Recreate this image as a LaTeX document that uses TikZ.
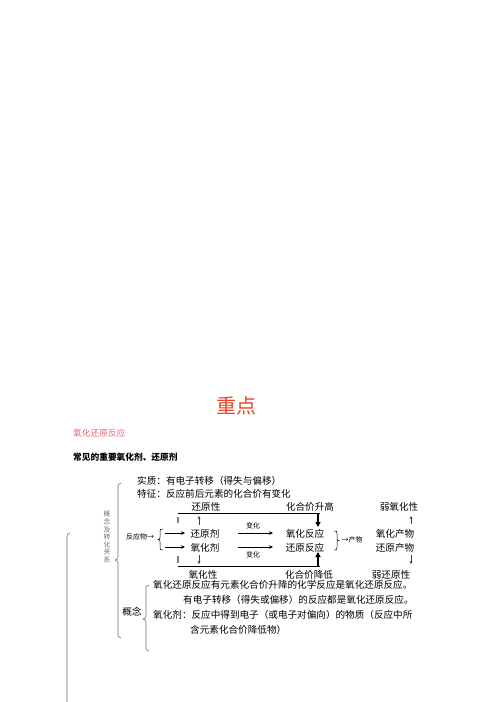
\documentclass[tikz,border=0pt]{standalone}
\usepackage{fontspec}
\setmainfont{Liberation Serif}
\newfontfamily\cjk{Noto Sans CJK SC}
\usetikzlibrary{arrows.meta}
\definecolor{titlered}{RGB}{226,70,35}
\definecolor{subpink}{RGB}{240,95,110}
\definecolor{bracegray}{RGB}{110,110,110}
\tikzset{
  txt/.style={inner sep=0pt, anchor=base, font=\cjk\fontsize{9.6}{12}\selectfont},
  ltxt/.style={txt, anchor=base west},
  small/.style={inner sep=0pt, anchor=base, font=\cjk\fontsize{7}{8}\selectfont},
  bline/.style={draw=black, line width=0.8pt},
  thickarr/.style={line width=1.3pt, -{Triangle[length=5pt,width=5pt]}},
  thinarr/.style={line width=0.8pt, -{Stealth[length=4pt,width=3.5pt]}},
  tinyarr/.style={line width=0.6pt, draw=black!75, -{Stealth[length=3pt,width=3pt]}},
  brc/.style={draw=bracegray, line width=0.6pt},
  graytick/.style={draw=gray, line width=1.2pt}
}
\begin{document}
\begin{tikzpicture}[x=1pt,y=-1pt]
\useasboundingbox (0,0) rectangle (496,702);
% headings
\node[inner sep=0pt, anchor=base, font=\cjk\fontsize{20}{22}\selectfont, text=titlered] (zd) at (236,413) {重点};
\node[inner sep=0pt, anchor=base west, font=\cjk\fontsize{8.7}{10}\selectfont, text=subpink] (yh) at (73,436.3) {氧化还原反应};
\node[inner sep=0pt, anchor=base west, font=\cjk\bfseries\fontsize{8.7}{10}\selectfont] (cj) at (73,460.3) {常见的重要氧化剂、还原剂};
% first lines
\node[ltxt] (sz) at (137,484.6) {实质：有电子转移（得失与偏移）};
\node[ltxt] (tz) at (137,497.6) {特征：反应前后元素的化合价有变化};
% columns
\node[txt] (hyx) at (206,510.6) {还原性};
\node[txt] (sg) at (310,510.6) {化合价升高};
\node[txt] (ryh) at (399,510.6) {弱氧化性};
\node[txt] (hyj) at (205,537.6) {还原剂};
\node[txt] (yhj) at (205,551.6) {氧化剂};
\node[txt] (yhfy) at (305,537.6) {氧化反应};
\node[txt] (hyfy) at (305,551.6) {还原反应};
\node[txt] (yhcw) at (395,537.6) {氧化产物};
\node[txt] (hycw) at (395,551.6) {还原产物};
\node[txt] (yhx) at (203,578.6) {氧化性};
\node[txt] (jd) at (309,578.6) {化合价降低};
\node[txt] (rhy) at (391,578.6) {弱还原性};
\node[small] (fyw) at (140,539.6) {反应物→};
\node[small] (cw) at (352,542.6) {→产物};
\node[small] (bh1) at (253,528.6) {变化};
\node[small] (bh2) at (253,557.6) {变化};
% vertical label
\node[inner sep=0pt, align=center, text=bracegray, font=\cjk\fontsize{6.8}{7.6}\selectfont] (gn) at (107,537) {概\\念\\及\\转\\化\\关\\系};
% concept block
\node[inner sep=0pt, anchor=base, font=\cjk\fontsize{9.6}{12}\selectfont] (gnl) at (132,615.6) {概念};
\node[ltxt] (c1) at (153,588.6) {氧化还原反应有元素化合价升降的化学反应是氧化还原反应。};
\node[ltxt] (c2) at (183,603.6) {有电子转移（得失或偏移）的反应都是氧化还原反应。};
\node[ltxt] (c3) at (153,618.6) {氧化剂：反应中得到电子（或电子对偏向）的物质（反应中所};
\node[ltxt] (c4) at (190,633.6) {含元素化合价降低物）};
% coordinates
\coordinate (tl) at (178,513);
\coordinate (tr) at (320,513);
\coordinate (bl) at (178,566);
\coordinate (br) at (320,566);
\coordinate (ta) at (318,513);
\coordinate (tb) at (318,527);
\coordinate (ba) at (318,566);
\coordinate (bb) at (318,552);
\coordinate (a1s) at (165,533);
\coordinate (a1e) at (185,533);
\coordinate (a2s) at (165,547);
\coordinate (a2e) at (185,547);
\coordinate (v1s) at (238,533);
\coordinate (v1e) at (273,533);
\coordinate (v2s) at (238,547);
\coordinate (v2e) at (273,547);
\coordinate (u1s) at (199,525);
\coordinate (u1e) at (199,516);
\coordinate (d1s) at (199,555);
\coordinate (d1e) at (199,564);
\coordinate (u2s) at (411,524);
\coordinate (u2e) at (411,516);
\coordinate (d2s) at (411,555);
\coordinate (d2e) at (411,564);
% lines
\draw[bline] (tl) -- (tr);
\draw[bline] (bl) -- (br);
\draw[graytick] (178,517) -- (178,523);
\draw[graytick] (178,556) -- (178,563);
\draw[thickarr] (ta) -- (tb);
\draw[thickarr] (ba) -- (bb);
\draw[thinarr] (a1s) -- (a1e);
\draw[thinarr] (a2s) -- (a2e);
\draw[thinarr] (v1s) -- (v1e);
\draw[thinarr] (v2s) -- (v2e);
\draw[tinyarr] (u1s) -- (u1e);
\draw[tinyarr] (d1s) -- (d1e);
\draw[tinyarr] (u2s) -- (u2e);
\draw[tinyarr] (d2s) -- (d2e);
% braces
\draw[brc] (70,533) .. controls (67,534) .. (67,539) -- (67,702);
\draw[brc] (121,483) .. controls (118,484) .. (118,489) -- (118,556) .. controls (118,559) .. (115,560) .. controls (118,561) .. (118,564) -- (118,632) .. controls (118,637) .. (121,638);
\draw[brc] (149,585) .. controls (146,586) .. (146,590) -- (146,615) .. controls (146,618) .. (143,619) .. controls (146,620) .. (146,623) -- (146,646) .. controls (146,650) .. (149,651);
\draw[line width=0.5pt] (163,529) .. controls (160,529) .. (160,532) -- (160,537) .. controls (160,539) .. (158,539.5) .. controls (160,540) .. (160,542) -- (160,547) .. controls (160,550) .. (163,550);
\draw[line width=0.5pt] (334,531) .. controls (337,531) .. (337,534) -- (337,538) .. controls (337,540) .. (339,540.5) .. controls (337,541) .. (337,543) -- (337,547) .. controls (337,550) .. (334,550);
\end{tikzpicture}
\end{document}
